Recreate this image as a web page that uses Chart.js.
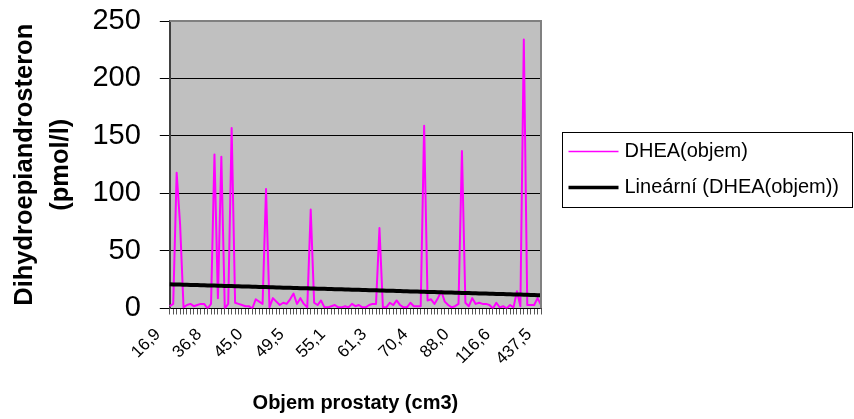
<!DOCTYPE html>
<html>
<head>
<meta charset="utf-8">
<script src="https://cdn.jsdelivr.net/npm/chart.js@4/dist/chart.umd.min.js"></script>
<style>
  html, body { margin: 0; padding: 0; background: #fff; }
</style>
</head>
<body>
<canvas id="dheaChart" width="854" height="419"></canvas>
<script>
// DHEA per patient, patients sorted by prostate volume
const dhea = [
  2, 4, 118, 73, 1, 3, 4, 2, 3, 4,
  4, 0, 4, 134, 9, 132, 0, 4, 157, 5,
  4, 3, 2, 2, 0, 8, 6, 4, 104, 1,
  9, 6, 3, 5, 4, 8, 13, 4, 9, 4,
  1, 86, 5, 3, 7, 1, 1, 2, 3, 1,
  1, 2, 1, 4, 2, 3, 1, 1, 3, 4,
  4, 70, 1, 1, 5, 3, 7, 3, 1, 1,
  5, 2, 2, 2, 159, 7, 8, 4, 9, 15,
  6, 3, 1, 2, 4, 137, 5, 2, 9, 4,
  5, 4, 4, 3, 0, 5, 1, 2, 0, 3,
  1, 15, 2, 234, 3, 3, 3, 9, 3
]
// volumes (cm3) shown under every 12th patient
const volumeLabels = ["16,9", "36,8", "45,0", "49,5", "55,1", "61,3", "70,4", "88,0", "116,6", "437,5"]
const labelStep = 12

const yTicks = { min: 0, max: 250, step: 50 }
const FONT = "'Liberation Sans', Arial, sans-serif"

const labels = dhea.map((v, i) => (i % labelStep === 0 ? volumeLabels[i / labelStep] : ""))

// least squares line over the point index, like a spreadsheet linear trendline
function linearTrend(values) {
  const n = values.length
  let sx = 0, sy = 0, sxx = 0, sxy = 0
  values.forEach((v, i) => {
    sx += i; sy += v; sxx += i * i; sxy += i * v
  })
  const slope = (n * sxy - sx * sy) / (n * sxx - sx * sx)
  const icpt = (sy - slope * sx) / n
  return values.map((v, i) => icpt + slope * i)
}

// grey plot area with a thin frame
const plotFrame = {
  id: "plotFrame",
  beforeDraw(chart) {
    const { ctx, chartArea: a } = chart
    ctx.save()
    ctx.fillStyle = "#c0c0c0"
    ctx.fillRect(a.left, a.top, a.right - a.left, a.bottom - a.top)
    ctx.restore()
  },
  afterDraw(chart) {
    const { ctx, chartArea: a } = chart
    ctx.save()
    ctx.strokeStyle = "#808080"
    ctx.lineWidth = 2
    ctx.beginPath()
    ctx.moveTo(a.left, a.top)
    ctx.lineTo(a.right, a.top)
    ctx.lineTo(a.right, a.bottom)
    ctx.stroke()
    ctx.restore()
  },
}

// boxed legend to the right of the plot
const boxLegend = {
  id: "boxLegend",
  afterDraw(chart) {
    const ctx = chart.ctx
    const box = { x: 562.5, y: 132.5, w: 290, h: 75 }
    ctx.save()
    ctx.strokeStyle = "#000"
    ctx.lineWidth = 1
    ctx.strokeRect(box.x, box.y, box.w, box.h)
    ctx.font = "20px " + FONT
    ctx.textBaseline = "middle"
    ctx.fillStyle = "#000"
    chart.data.datasets.forEach((ds, k) => {
      const y = box.y + 19 + k * 36
      ctx.strokeStyle = ds.borderColor
      ctx.lineWidth = ds.legendWidth
      ctx.beginPath()
      ctx.moveTo(box.x + 6, y)
      ctx.lineTo(box.x + 56, y)
      ctx.stroke()
      ctx.fillText(ds.label, box.x + 62, y)
    })
    ctx.restore()
  },
}

const data = {
  labels: labels,
  datasets: [
    {
      label: "DHEA(objem)",
      data: dhea,
      borderColor: "#ff00ff",
      borderWidth: 2,
      legendWidth: 1.5,
      borderJoinStyle: "round",
      pointRadius: 0,
      tension: 0,
      order: 1,
    },
    {
      label: "Lineární (DHEA(objem))",
      data: linearTrend(dhea),
      borderColor: "#000000",
      borderWidth: 4,
      legendWidth: 3.5,
      pointRadius: 0,
      tension: 0,
      order: 0,
    },
  ],
}

const config = {
  type: "line",
  data: data,
  plugins: [plotFrame, boxLegend],
  options: {
    responsive: false,
    devicePixelRatio: 1,
    animation: false,
    layout: { padding: { left: 7, right: 313, top: 21, bottom: 4 } },
    plugins: {
      legend: { display: false },
      tooltip: { enabled: false },
    },
    scales: {
      x: {
        ticks: {
          autoSkip: false,
          maxRotation: 45,
          minRotation: 45,
          labelOffset: -12,
          padding: 10,
          color: "#000",
          font: { family: FONT, size: 17 },
        },
        grid: { drawOnChartArea: false, tickLength: 6, tickColor: "#555" },
        border: { color: "#000", width: 1 },
        title: {
          display: true,
          text: "Objem prostaty (cm3)",
          color: "#000",
          font: { family: FONT, size: 20, weight: "bold" },
          padding: { top: 12, bottom: 0 },
        },
      },
      y: {
        min: yTicks.min,
        max: yTicks.max,
        ticks: {
          stepSize: yTicks.step,
          padding: 19,
          color: "#000",
          font: { family: FONT, size: 29, lineHeight: 0.1 },
        },
        grid: { color: "#000", lineWidth: 1, tickLength: 10, tickColor: "#000" },
        border: { color: "#404040", width: 2 },
        title: {
          display: true,
          text: ["Dihydroepiandrosteron", "(pmol/l)"],
          color: "#000",
          font: { family: FONT, size: 25.5, weight: "bold", lineHeight: 1.4 },
          padding: { top: 0, bottom: -5 },
        },
      },
    },
  },
}

new Chart(document.getElementById("dheaChart"), config)
</script>
</body>
</html>
